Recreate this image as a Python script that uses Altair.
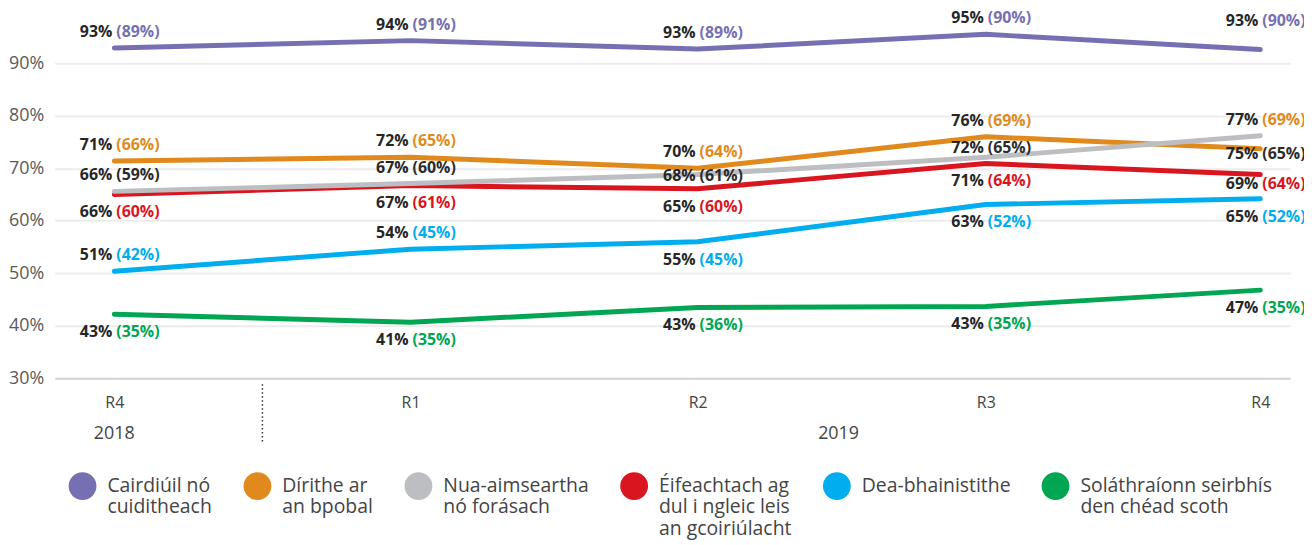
import altair as alt
import pandas as pd

# ---------------- data ----------------
quarters = ["R4", "R1", "R2", "R3", "R4"]
quarter_years = ["2018", "2019", "2019", "2019", "2019"]
# position of each survey round on the time axis (in quarters)
round_pos = [0.0, 1.034, 2.036, 3.042, 4.0]

series_names = [
    "Cairdiúil nó\ncuiditheach",
    "Dírithe ar\nan bpobal",
    "Nua-aimseartha\nnó forásach",
    "Éifeachtach ag\ndul i ngleic leis\nan gcoiriúlacht",
    "Dea-bhainistithe",
    "Soláthraíonn seirbhís\nden chéad scoth",
]
series_colors = ["#7670b3", "#e08a1e", "#bdbec1", "#d9161f", "#00aeef", "#00a651"]
paren_colors = ["#7670b3", "#e08a1e", "#2b2b2b", "#d9161f", "#00aeef", "#00a651"]

# plotted line values
vals_cairdiuil = [92.9, 94.3, 92.7, 95.5, 92.6]
vals_dirithe = [71.4, 72.1, 70.0, 76.0, 73.7]
vals_nua = [65.6, 67.1, 68.8, 72.1, 76.2]
vals_eifeachtach = [65.0, 66.7, 66.1, 70.9, 68.8]
vals_dea = [50.4, 54.6, 56.0, 63.1, 64.2]
vals_solathraionn = [42.2, 40.7, 43.5, 43.7, 46.8]

# printed labels: main value and (value in brackets)
main_cairdiuil = [93, 94, 93, 95, 93]
paren_cairdiuil = [89, 91, 89, 90, 90]
main_dirithe = [71, 72, 70, 76, 77]
paren_dirithe = [66, 65, 64, 69, 69]
main_nua = [66, 67, 68, 72, 75]
paren_nua = [59, 60, 61, 65, 65]
main_eifeachtach = [66, 67, 65, 71, 69]
paren_eifeachtach = [60, 61, 60, 64, 64]
main_dea = [51, 54, 55, 63, 65]
paren_dea = [42, 45, 45, 52, 52]
main_solathraionn = [43, 41, 43, 43, 47]
paren_solathraionn = [35, 35, 36, 35, 35]

# label placement relative to the point
place_cairdiuil = ["above", "above", "above", "above", "high"]
place_dirithe = ["above", "above", "above", "above", "high"]
place_nua = ["above", "above", "on", "snug", "below"]
place_eifeachtach = ["below", "below", "below", "below", "near"]
place_dea = ["above", "above", "below", "below", "below"]
place_solathraionn = ["below", "below", "below", "below", "below"]

all_vals = [vals_cairdiuil, vals_dirithe, vals_nua, vals_eifeachtach, vals_dea, vals_solathraionn]
all_main = [main_cairdiuil, main_dirithe, main_nua, main_eifeachtach, main_dea, main_solathraionn]
all_paren = [paren_cairdiuil, paren_dirithe, paren_nua, paren_eifeachtach, paren_dea, paren_solathraionn]
all_place = [place_cairdiuil, place_dirithe, place_nua, place_eifeachtach, place_dea, place_solathraionn]

# style: vertical offsets for each placement keyword
PLACE_DY = {"above": -16, "high": -29, "snug": -9, "on": 1, "below": 18, "near": 10}

# drawing order (grey drawn over red)
draw_order = [0, 1, 3, 2, 4, 5]

rows = []
for s in draw_order:
    for i in range(len(quarters)):
        rows.append({
            "series": series_names[s],
            "pos": round_pos[i],
            "value": all_vals[s][i],
            "main": f"{all_main[s][i]}%",
            "paren": f"({all_paren[s][i]}%)",
            "place": all_place[s][i],
            "pcolor": paren_colors[s],
        })
df = pd.DataFrame(rows)

# year labels centred under their quarters; separator between years
year_rows = []
for y in dict.fromkeys(quarter_years):
    ps = [round_pos[i] for i, q in enumerate(quarter_years) if q == y]
    year_rows.append({"year": y, "x": sum(ps) / len(ps)})
years_df = pd.DataFrame(year_rows)
first_2019 = quarter_years.index("2019")
sep_df = pd.DataFrame({"sep": [(round_pos[first_2019 - 1] + round_pos[first_2019]) / 2]})

FONT = "Open Sans"
W, H = 1243, 371

x_scale = alt.Scale(domain=[-0.208, 4.104], nice=False, zero=False)
y_scale = alt.Scale(domain=[30, 100.2], nice=False, zero=False)
color_scale = alt.Scale(domain=series_names, range=series_colors)

quarter_expr = "[" + ",".join(f"'{q}'" for q in quarters) + "][round(datum.value)]"

x_enc = alt.X(
    "pos:Q",
    scale=x_scale,
    axis=alt.Axis(
        values=round_pos,
        labelExpr=quarter_expr,
        title=None,
        domain=False,
        ticks=False,
        grid=False,
        labelFont=FONT,
        labelFontSize=16,
        labelColor="#444",
        labelPadding=16,
    ),
)
y_enc = alt.Y(
    "value:Q",
    scale=y_scale,
    axis=alt.Axis(
        values=[30, 40, 50, 60, 70, 80, 90],
        labelExpr="datum.value + '%'",
        title=None,
        domain=False,
        ticks=False,
        grid=True,
        gridColor={"condition": {"test": "datum.value === 30", "value": "#d2d2d2"}, "value": "#ececec"},
        gridWidth=2,
        labelFont=FONT,
        labelFontSize=18,
        labelColor="#5a5a5a",
        labelPadding=11,
    ),
)

base = alt.Chart(df)

# legend symbol: a small circle stroked so thickly that it reads as a filled disc
ring_path = "M -0.5 0.65 A 0.5 0.5 0 1 1 0.5 0.65 A 0.5 0.5 0 1 1 -0.5 0.65 Z"

lines = base.mark_line(strokeWidth=5, strokeCap="round", strokeJoin="round").encode(
    x=x_enc,
    y=y_enc,
    color=alt.Color(
        "series:N",
        scale=color_scale,
        legend=alt.Legend(
            orient="none",
            legendX=7,
            legendY=449,
            direction="horizontal",
            columns=6,
            title=None,
            symbolType=ring_path,
            symbolSize=784,
            symbolStrokeWidth=14,
            labelFont=FONT,
            labelFontSize=19.5,
            labelColor="#444",
            labelBaseline="top",
            labelOffset=4,
            labelLimit=500,
            columnPadding=10,
            # every label gets three lines so all entries line up alike
            labelExpr="slice(split(datum.label + '\\n\\n', '\\n'), 0, 3)",
        ),
    ),
)

text_layers = []
for key, dy in PLACE_DY.items():
    sub = base.transform_filter(alt.datum.place == key)
    text_layers.append(
        sub.mark_text(align="right", baseline="middle", dx=-2, dy=dy, font=FONT,
                      fontSize=16, fontWeight="bold", color="#262626").encode(
            x=alt.X("pos:Q", scale=x_scale),
            y=alt.Y("value:Q", scale=y_scale),
            text="main:N",
        )
    )
    text_layers.append(
        sub.mark_text(align="left", baseline="middle", dx=2, dy=dy, font=FONT,
                      fontSize=16, fontWeight="bold").encode(
            x=alt.X("pos:Q", scale=x_scale),
            y=alt.Y("value:Q", scale=y_scale),
            text="paren:N",
            fill=alt.Fill("pcolor:N", scale=None),
        )
    )

years = alt.Chart(years_df).mark_text(font=FONT, fontSize=18, color="#444", baseline="middle").encode(
    x=alt.X("x:Q", scale=x_scale),
    y=alt.value(427),
    text="year:N",
)

sep = alt.Chart(sep_df).mark_rule(color="#333", strokeWidth=1.5, strokeDash=[1.5, 2.5]).encode(
    x=alt.X("sep:Q", scale=x_scale),
    y=alt.value(377),
    y2=alt.value(435),
)

chart = alt.layer(lines, *text_layers, years, sep).properties(
    width=W,
    height=H,
    background="white",
    autosize=alt.AutoSizeParams(type="none"),
    padding={"left": 47, "top": 0, "right": 14, "bottom": 166},
).configure_view(stroke=None)

chart.save("out.html", embed_options={"renderer": "svg", "actions": False})
